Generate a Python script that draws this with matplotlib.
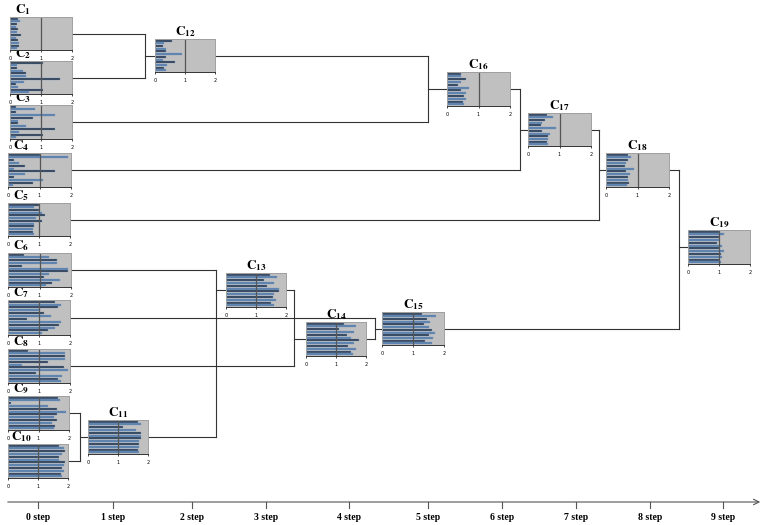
import matplotlib
matplotlib.use("Agg")
import matplotlib.pyplot as plt

plt.rcParams['mathtext.fontset'] = 'stix'

W, H = 764, 525

# cluster names
names = ["C1", "C2", "C3", "C4", "C5", "C6", "C7", "C8", "C9", "C10",
         "C11", "C12", "C13", "C14", "C15", "C16", "C17", "C18", "C19"]

# bar values of each cluster (12 attributes, scale 0..2)
vals = {
    "C1":  [0.25, 0.32, 0.22, 0.2, 0.25, 0.22, 0.36, 0.2, 0.25, 0.3, 0.28, 0.22],
    "C2":  [1.05, 0.22, 0.22, 0.42, 0.5, 0.52, 1.6, 0.45, 0.2, 0.25, 1.05, 0.6],
    "C3":  [0.2, 0.8, 0.2, 1.45, 0.75, 0.25, 0.25, 0.5, 1.45, 0.3, 1.05, 0.2],
    "C4":  [1.0, 1.9, 0.2, 0.35, 0.55, 0.2, 1.5, 0.55, 0.2, 1.1, 0.8, 0.15],
    "C5":  [1.0, 0.85, 1.0, 1.1, 1.2, 0.9, 1.1, 0.85, 0.85, 0.8, 0.8, 0.85],
    "C6":  [0.5, 1.3, 1.55, 1.55, 0.45, 1.9, 1.9, 1.3, 1.15, 1.65, 1.4, 1.2],
    "C7":  [1.5, 1.7, 1.6, 1.0, 1.15, 1.4, 0.6, 1.7, 1.65, 1.5, 1.3, 1.1],
    "C8":  [0.65, 1.85, 1.85, 1.85, 1.3, 0.45, 1.8, 1.95, 0.9, 1.75, 1.6, 1.7],
    "C9":  [1.65, 1.7, 0.1, 1.3, 1.6, 1.9, 1.6, 1.5, 1.6, 1.45, 1.55, 1.5],
    "C10": [1.7, 1.85, 1.9, 1.8, 1.7, 1.7, 1.9, 1.85, 1.8, 1.85, 1.75, 1.8],
    "C11": [1.65, 1.75, 1.15, 1.6, 1.75, 1.75, 1.75, 1.7, 1.7, 1.7, 1.65, 1.7],
    "C12": [0.55, 0.3, 0.25, 0.35, 0.35, 0.9, 0.35, 0.25, 0.65, 0.4, 0.3, 0.35],
    "C13": [1.45, 1.7, 1.25, 1.6, 1.35, 1.75, 1.75, 1.6, 1.55, 1.65, 1.5, 1.6],
    "C14": [1.25, 1.65, 1.1, 1.6, 1.35, 1.5, 1.75, 1.6, 1.4, 1.65, 1.5, 1.55],
    "C15": [1.3, 1.75, 1.45, 1.55, 1.35, 1.5, 1.6, 1.7, 1.5, 1.65, 1.4, 1.6],
    "C16": [0.45, 0.45, 0.6, 0.45, 0.35, 0.7, 0.45, 0.6, 0.55, 0.6, 0.5, 0.55],
    "C17": [0.6, 0.8, 0.55, 0.45, 0.4, 0.9, 0.45, 0.7, 0.65, 0.65, 0.6, 0.65],
    "C18": [0.7, 0.8, 0.7, 0.65, 0.6, 0.9, 0.65, 0.75, 0.7, 0.7, 0.72, 0.68],
    "C19": [1.0, 1.15, 1.0, 1.0, 0.95, 1.1, 1.0, 1.15, 1.05, 1.1, 1.0, 1.05],
}

# inset boxes in pixels: left, top, right, bottom
boxes = {
    "C1": (10, 17, 72, 50), "C2": (10, 61, 72, 94), "C3": (10, 105, 72, 139),
    "C4": (8, 153, 71, 187), "C5": (8, 203, 70, 236), "C6": (8, 253, 71, 287),
    "C7": (8, 300, 70, 335), "C8": (8, 349, 70, 383), "C9": (8, 396, 69, 430),
    "C10": (8, 444, 68, 478), "C11": (88, 420, 148, 454), "C12": (155, 39, 215, 72),
    "C13": (226, 273, 286, 307), "C14": (306, 322, 366, 356), "C15": (382, 312, 444, 345),
    "C16": (447, 72, 510, 106), "C17": (528, 113, 591, 146), "C18": (606, 153, 669, 187),
    "C19": (688, 230, 750, 264),
}

# merges: (child a, child b, parent, x of the joining vertical line)
merges = [
    ("C1", "C2", "C12", 145), ("C9", "C10", "C11", 80), ("C6", "C11", "C13", 216),
    ("C13", "C8", "C14", 294), ("C7", "C14", "C15", 375), ("C12", "C3", "C16", 428),
    ("C16", "C4", "C17", 520), ("C17", "C5", "C18", 599), ("C18", "C15", "C19", 679),
]

steps = ["0 step", "1 step", "2 step", "3 step", "4 step",
         "5 step", "6 step", "7 step", "8 step", "9 step"]
step_x = [38, 113, 192, 266, 349, 428, 502, 576, 650, 723]

fig = plt.figure(figsize=(W / 100, H / 100), dpi=100)
ax = fig.add_axes([0, 0, 1, 1])
ax.set_xlim(0, W)
ax.set_ylim(H, 0)
ax.axis("off")


def mid_y(b):
    return (b[1] + b[3]) / 2


# connectors
for a, b, p, xj in merges:
    ba, bb, bp = boxes[a], boxes[b], boxes[p]
    ya, yb = mid_y(ba), mid_y(bb)
    ax.plot([ba[2], xj], [ya, ya], color="#333333", lw=0.8)
    ax.plot([bb[2], xj], [yb, yb], color="#333333", lw=0.8)
    ax.plot([xj, xj], [ya, yb], color="#333333", lw=0.8)
    yp = mid_y(bp)
    ax.plot([xj, bp[0]], [yp, yp], color="#333333", lw=0.8)

# bottom step axis
ax.annotate("", xy=(763, 502), xytext=(5, 502),
            arrowprops=dict(arrowstyle="->", color="#555555", lw=0.8))
for s, x in zip(steps, step_x):
    ax.plot([x, x], [502, 508], color="#555555", lw=0.8)
    ax.text(x, 518, s, ha="center", va="center", fontsize=7,
            fontweight="bold", family="Liberation Serif")

colors = ["#2e3d52", "#5a80ad"]
for n in names:
    x0, y0, x1, y1 = boxes[n]
    ia = fig.add_axes([x0 / W, 1 - y1 / H, (x1 - x0) / W, (y1 - y0) / H])
    v = vals[n]
    ia.set_facecolor("#c0c0c0")
    ia.barh(range(len(v)), v, height=0.72,
            color=[colors[i % 2] for i in range(len(v))],
            edgecolor="#7d9cc2", lw=0.25)
    ia.axvline(1, color="#555555", lw=0.9)
    ia.set_xlim(0, 2)
    ia.set_ylim(len(v) - 0.4, -0.6)
    ia.set_yticks([])
    ia.set_xticks([0, 1, 2])
    ia.tick_params(axis="x", labelsize=3.5, length=1.5, width=0.5, pad=3)
    for sp in ia.spines.values():
        sp.set_color("#a0a0a0")
        sp.set_linewidth(0.7)
    ia.spines["bottom"].set_color("#333333")
    num = n[1:]
    if int(num) <= 10:
        lx = x0 + 13
    else:
        lx = (x0 + x1) / 2
    ax.text(lx, y0 - 7, r"$\mathbf{C}_{\mathbf{%s}}$" % num, ha="center",
            va="center", fontsize=9.5)

fig.savefig("out.png", dpi=100)
